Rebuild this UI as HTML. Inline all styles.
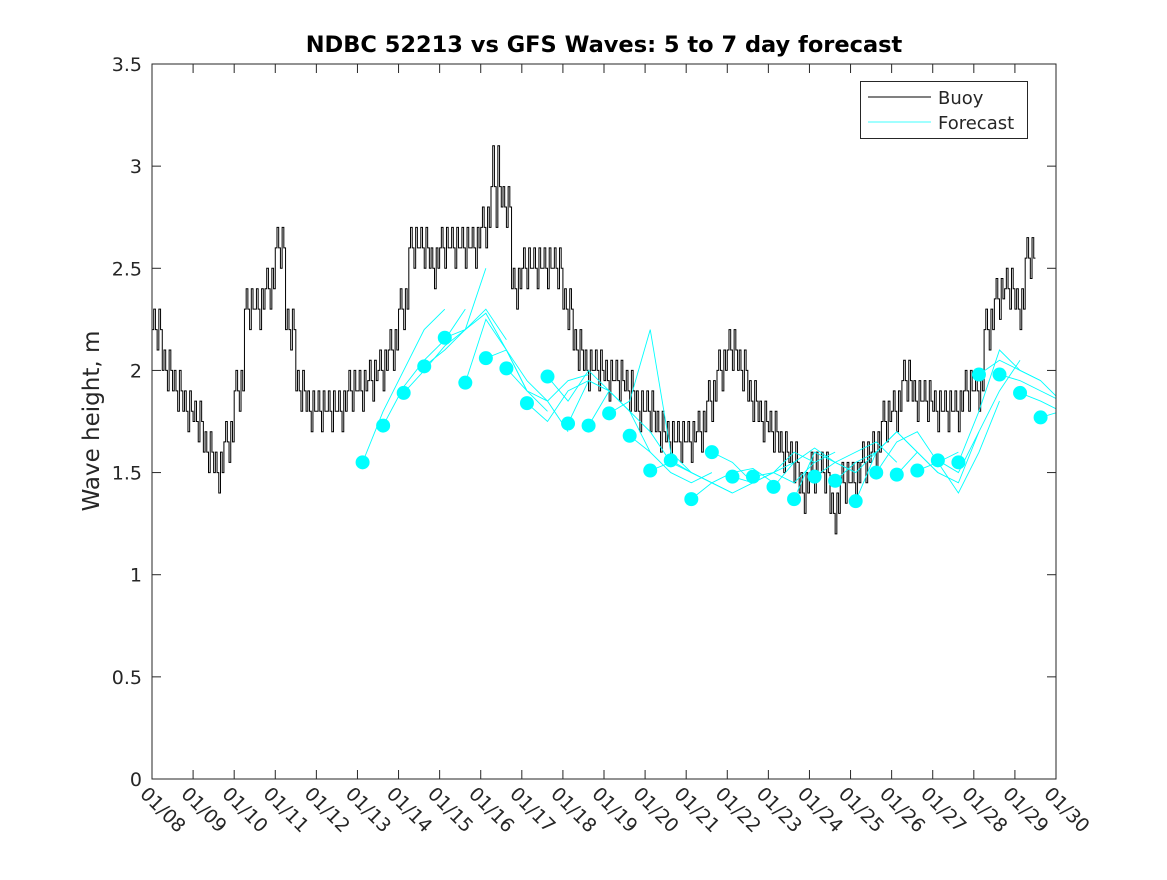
<!DOCTYPE html>
<html><head><meta charset="utf-8"><style>
body{margin:0;background:#fff;}
svg text{font-family:"DejaVu Sans","Liberation Sans",sans-serif;fill:#262626;}
</style></head><body>
<svg id="chart" width="1167" height="875" xmlns="http://www.w3.org/2000/svg">
<rect width="1167" height="875" fill="#fff"/>
<text x="604" y="52" text-anchor="middle" font-size="22.5" font-weight="bold" style="fill:#000">NDBC 52213 vs GFS Waves: 5 to 7 day forecast</text>
<text transform="translate(99,421) rotate(-90)" text-anchor="middle" font-size="23">Wave height, m</text>
<defs><clipPath id="pc"><rect x="152" y="64" width="904" height="715"/></clipPath></defs>
<g id="ticks"></g>
<g id="plot" clip-path="url(#pc)"></g>
<rect x="152" y="64" width="904" height="715" fill="none" stroke="#262626" stroke-width="1"/>
<g>
<rect x="860.5" y="81.5" width="167" height="57" fill="#fff" stroke="#262626"/>
<line x1="868" y1="97" x2="931" y2="97" stroke="#000"/>
<text x="938" y="104" font-size="18">Buoy</text>
<line x1="868" y1="122" x2="931" y2="122" stroke="#00ffff" stroke-width="0.8"/>
<text x="938" y="129" font-size="18">Forecast</text>
</g>
</svg>
<script>
const xTickLabels=["01/08","01/09","01/10","01/11","01/12","01/13","01/14","01/15","01/16","01/17","01/18","01/19","01/20","01/21","01/22","01/23","01/24","01/25","01/26","01/27","01/28","01/29","01/30"];
const yTicks=[0,0.5,1,1.5,2,2.5,3,3.5];
const buoyStart=8.0, buoyStep=0.25;
const buoy=[2.2,2.0,1.9,1.8,1.75,1.6,1.5,1.65,1.9,2.3,2.3,2.4,2.6,2.2,1.9,1.8,1.8,1.8,1.8,1.9,1.9,1.95,2.0,2.1,2.3,2.6,2.6,2.5,2.6,2.6,2.6,2.6,2.7,2.9,2.8,2.4,2.5,2.5,2.5,2.5,2.3,2.1,2.0,2.0,1.95,1.95,1.9,1.8,1.8,1.7,1.65,1.65,1.65,1.7,1.85,2.0,2.1,2.0,1.85,1.75,1.7,1.6,1.55,1.4,1.5,1.5,1.3,1.45,1.45,1.55,1.6,1.75,1.8,1.95,1.85,1.85,1.8,1.8,1.8,1.9,1.9,2.2,2.35,2.4,2.3,2.55];
const buoyJitter=[0.1,0.1,0.1,0.1,0.1,0.1,0.1,0.1,0.1,0.1,0.1,0.1,0.1,0.1,0.1,0.1,0.1,0.1,0.1,0.1,0.1,0.1,0.1,0.1,0.1,0.1,0.1,0.1,0.1,0.1,0.1,0.1,0.1,0.2,0.1,0.1,0.1,0.1,0.1,0.1,0.1,0.1,0.1,0.1,0.1,0.1,0.1,0.1,0.1,0.1,0.1,0.1,0.1,0.1,0.1,0.1,0.1,0.1,0.1,0.1,0.1,0.1,0.1,0.1,0.1,0.1,0.1,0.1,0.1,0.1,0.1,0.1,0.1,0.1,0.1,0.1,0.1,0.1,0.1,0.1,0.1,0.1,0.1,0.1,0.1,0.1];
const fcStart=13.125, fcStep=0.5;
const dots=[1.55,1.73,1.89,2.02,2.16,1.94,2.06,2.01,1.84,1.97,1.74,1.73,1.79,1.68,1.51,1.56,1.37,1.60,1.48,1.48,1.43,1.37,1.48,1.46,1.36,1.50,1.49,1.51,1.56,1.55,1.98,1.98,1.89,1.77];
const runs=[
[1.55,1.8,2.0,2.2,2.3],[1.73,1.92,2.05,2.15,2.3],[1.89,2.0,2.12,2.2,2.5],[2.02,2.1,2.2,2.3,2.15],
[2.16,2.2,2.28,2.1,1.9],[1.94,2.25,2.1,1.9,1.8],[2.06,2.1,1.95,1.85,1.7],[2.01,1.9,1.85,1.95,1.98],
[1.84,1.75,1.9,1.95,1.9],[1.97,1.85,2.0,1.9,1.8],[1.74,1.95,1.9,1.8,1.6],[1.73,1.9,1.8,1.7,1.55],
[1.79,1.85,2.2,1.6,1.5],[1.68,1.6,1.5,1.45,1.5],[1.51,1.55,1.5,1.45,1.4],[1.56,1.5,1.45,1.4,1.45],
[1.37,1.45,1.5,1.52,1.45],[1.60,1.55,1.45,1.5,1.55],[1.48,1.45,1.5,1.6,1.55],[1.48,1.5,1.45,1.55,1.6],
[1.43,1.55,1.62,1.55,1.5],[1.37,1.6,1.55,1.5,1.6],[1.48,1.55,1.6,1.65,1.55],[1.46,1.55,1.6,1.7,1.6],
[1.36,1.6,1.7,1.6,1.5],[1.50,1.65,1.7,1.55,1.6],[1.49,1.6,1.5,1.45,1.7],[1.51,1.55,1.4,1.6,1.85],
[1.56,1.5,1.7,1.9,2.05],[1.55,1.8,2.1,2.0,1.95],[1.98,2.05,2.0,1.95,1.85],[1.98,1.95,1.9,1.85,1.88],
[1.89,1.85,1.8,1.85,1.9],[1.77,1.8,1.85,1.9,1.9]];
const X0=152,X1=1056,Y0=779,Y1=64;
function xs(d){return X0+(d-8)/22*(X1-X0);}
function ys(v){return Y0-v/3.5*(Y0-Y1);}
const NS="http://www.w3.org/2000/svg";
const ticks=document.getElementById('ticks'), plot=document.getElementById('plot');
function mk(tag,attrs,parent){const e=document.createElementNS(NS,tag);for(const k in attrs)e.setAttribute(k,attrs[k]);parent.appendChild(e);return e;}
xTickLabels.forEach((lab,i)=>{const x=xs(8+i);
 const l=mk('line',{x1:x,y1:Y0,x2:x,y2:Y0-9,stroke:'#262626'},ticks);
 
 
 const l2=mk('line',{x1:x,y1:Y1,x2:x,y2:Y1+9,stroke:'#262626'},ticks);
 
 
 const t=mk('text',{transform:`translate(${x-13},${Y0+16}) rotate(45)`,'font-size':19},ticks);
 t.textContent=lab;
 
 
});
yTicks.forEach(v=>{const y=ys(v);
 const l=mk('line',{x1:X0,y1:y,x2:X0+9,y2:y,stroke:'#262626'},ticks);
 
 
 const l2=mk('line',{x1:X1,y1:y,x2:X1-9,y2:y,stroke:'#262626'},ticks);
 
 
 const t=mk('text',{x:X0-10,y:y+7,'text-anchor':'end','font-size':19},ticks);
 t.textContent=String(v);
 
 
});
let pts=[];
buoy.forEach((v,i)=>{const d=buoyStart+i*buoyStep;const j=buoyJitter[i];
 const seq=[v,v+j,v,v-j,v+j,v];
 seq.forEach((s,k)=>{const xa=xs(d+k*buoyStep/6),xb=xs(d+(k+1)*buoyStep/6);
  pts.push(`${xa},${ys(s)}`,`${xb},${ys(s)}`);});
});
const bl=mk('polyline',{points:pts.join(' '),fill:'none',stroke:'#000','stroke-width':1},plot);


runs.forEach((r,i)=>{const d0=fcStart+i*fcStep;
 const p=r.map((v,k)=>`${xs(d0+k*0.5)},${ys(v)}`).join(' ');
 const pl=mk('polyline',{points:p,fill:'none',stroke:'#00ffff','stroke-width':0.9},plot);
 
 
});
dots.forEach((v,i)=>{
 const c=mk('circle',{cx:xs(fcStart+i*fcStep),cy:ys(v),r:7,fill:'#00ffff'},plot);
 
 
});
</script>
</body></html>
